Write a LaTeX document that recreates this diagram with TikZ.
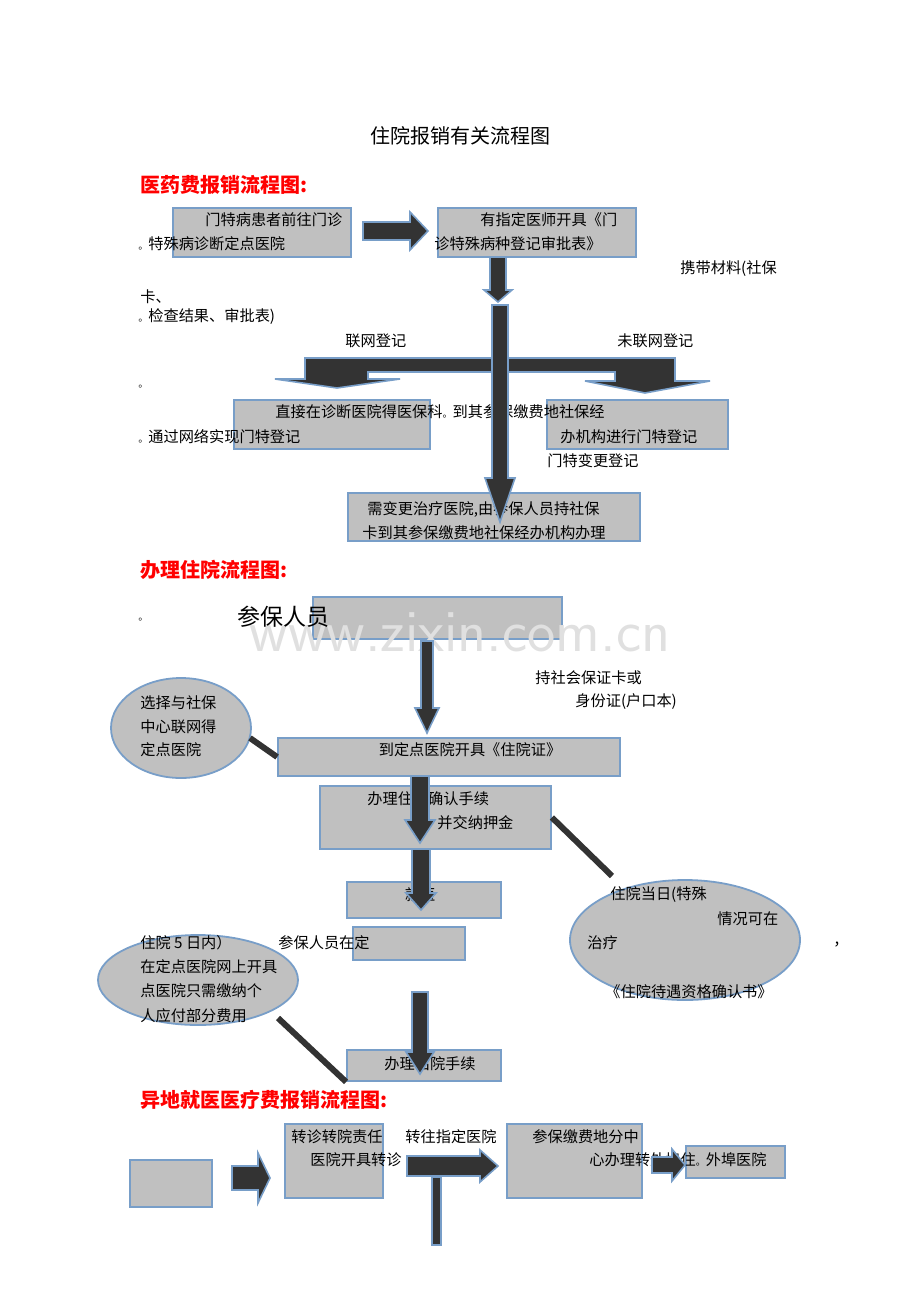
\documentclass[tikz,border=0pt]{standalone}
\usepackage{fontspec}
\setmainfont{Noto Sans CJK SC}
\usetikzlibrary{fit,shapes.geometric}
\definecolor{boxgray}{RGB}{192,192,192}
\definecolor{boxline}{RGB}{120,158,200}
\definecolor{arrdark}{RGB}{51,51,51}
\newcommand\pbox[5]{\node[box,fit={(#2,#3)(#4,#5)}] (#1) {};}
\newcommand\darr[6]{\draw[blk] (#1-#5,#2) -- (#1+#5,#2) -- (#1+#5,#3) -- (#1+#6,#3) -- (#1,#4) -- (#1-#6,#3) -- (#1-#5,#3) -- cycle;}
\newcommand\rarr[6]{\draw[blk] (#2,#1-#5) -- (#3,#1-#5) -- (#3,#1-#6) -- (#4,#1) -- (#3,#1+#6) -- (#3,#1+#5) -- (#2,#1+#5) -- cycle;}
\tikzset{
  box/.style={draw=boxline,fill=boxgray,line width=0.9pt,inner sep=0pt},
  blk/.style={draw=boxline,fill=arrdark,line width=0.8pt},
  oval/.style={draw=boxline,fill=boxgray,line width=0.9pt,ellipse,inner sep=0pt},
  link/.style={draw=arrdark,line width=3pt},
  txt/.style={anchor=west,inner sep=0pt,font=\fontsize{7.6}{9}\selectfont},
  head/.style={anchor=west,inner sep=0pt,text=red,font=\fontsize{10}{12}\selectfont\bfseries},
}
\newcommand\smdot{{\tiny 。}}
\begin{document}
\begin{tikzpicture}[x=0.5pt,y=-0.5pt]
\useasboundingbox (0,0) rectangle (920,1302);
\node[inner sep=0pt,font=\fontsize{10}{12}\selectfont] (title) at (460,136) {住院报销有关流程图};
% part 1
\node[head] (h1) at (140,185) {医药费报销流程图:};
\pbox{b1}{173}{208}{351}{257}
\pbox{b2}{438}{208}{636}{257}
\pbox{b3}{234}{400}{430}{449}
\pbox{b4}{547}{400}{728}{449}
\pbox{b5}{348}{493}{640}{541}
\node[txt] (t1a) at (205,220) {门特病患者前往门诊};
\node[txt] (t1b) at (138,244) {\smdot 特殊病诊断定点医院};
\node[txt] (t2a) at (480,220) {有指定医师开具《门};
\node[txt] (t2b) at (434,244) {诊特殊病种登记审批表》};
\node[txt] (m1) at (680,269) {携带材料(社保};
\node[txt] (m2) at (140,297) {卡、};
\node[txt] (m3) at (138,317) {\smdot 检查结果、审批表)};
\node[txt] (lw) at (345,341) {联网登记};
\node[txt] (wlw) at (617,341) {未联网登记};
\node[txt] (dt) at (138,387) {\smdot};
\node[txt] (t3a) at (275,412) {直接在诊断医院得医保科\smdot 到其参保缴费地社保经};
\node[txt] (t3b) at (138,437) {\smdot 通过网络实现门特登记};
\node[txt] (t4b) at (560,437) {办机构进行门特登记};
\node[txt] (t4c) at (547,461) {门特变更登记};
\node[txt] (t5a) at (367,509) {需变更治疗医院,由参保人员持社保};
\node[txt] (t5b) at (362,533) {卡到其参保缴费地社保经办机构办理};
\rarr{231}{363}{410}{428}{9}{19}
\darr{498}{257}{290}{302}{8}{14}
\draw[blk] (495,358) -- (495,372) -- (368,372) -- (368,379) -- (400,379) -- (337,388) -- (275,379) -- (305,379) -- (305,358) -- cycle;
\draw[blk] (505,358) -- (675,358) -- (675,381) -- (710,381) -- (645,393) -- (585,381) -- (615,381) -- (615,372) -- (505,372) -- cycle;
\darr{500}{305}{478}{522}{8}{15}
% part 2
\node[head] (h2) at (140,570) {办理住院流程图:};
\node[txt] (dt2) at (138,620) {\smdot};
\pbox{b6}{313}{597}{562}{639}
\node[text=black!12,inner sep=0pt,font=\fontsize{30}{32}\selectfont\sffamily] (mark) at (460,632) {www.zixin.com.cn};
\node[txt,font=\fontsize{11.5}{14}\selectfont] (cb) at (237,617) {参保人员};
\node[txt] (c1) at (535,678) {持社会保证卡或};
\node[txt] (c2) at (575,702) {身份证(户口本)};
\darr{427}{641}{708}{733}{6}{12}
\node[oval,minimum width=70pt,minimum height=50pt] (e1) at (181,728) {};
\node[txt] (e1a) at (140,703) {选择与社保};
\node[txt] (e1b) at (140,727) {中心联网得};
\node[txt] (e1c) at (140,750) {定点医院};
\pbox{b7}{278}{738}{620}{776}
\draw[link] (250,738) -- (b7.west);
\node[inner sep=0pt,font=\fontsize{7.6}{9}\selectfont] (t7) at (470,750) {到定点医院开具《住院证》};
\pbox{b8}{320}{786}{551}{849}
\node[txt] (t8a) at (367,799) {办理住院确认手续};
\node[txt] (t8b) at (437,823) {并交纳押金};
\darr{420}{776}{820}{843}{9}{15}
\draw[link] (b8.east) -- (612,876);
\node[oval,minimum width=115pt,minimum height=60pt] (e2) at (685,940) {};
\node[txt] (e2a) at (610,895) {住院当日(特殊};
\node[txt] (e2b) at (717,919) {情况可在};
\node[txt] (e2c) at (587,943) {治疗};
\node[txt] (e2d) at (605,992) {《住院待遇资格确认书》};
\node[txt] (cm) at (833,945) {，};
\pbox{b9}{347}{882}{501}{918}
\node[inner sep=0pt,font=\fontsize{7.6}{9}\selectfont] (t9) at (420,895) {就医};
\darr{421}{849}{893}{910}{9}{15}
\pbox{b10}{353}{927}{465}{960}
\node[txt] (t10) at (278,943) {参保人员在定};
\node[oval,minimum width=100pt,minimum height=45pt] (e3) at (198,980) {};
\node[txt] (e3a) at (140,943) {住院 5 日内）};
\node[txt] (e3b) at (140,967) {在定点医院网上开具};
\node[txt] (e3c) at (140,991) {点医院只需缴纳个};
\node[txt] (e3d) at (140,1016) {人应付部分费用};
\pbox{b11}{347}{1050}{501}{1081}
\draw[link] (278,1018) -- (b11.south west);
\node[inner sep=0pt,font=\fontsize{7.6}{9}\selectfont] (t11) at (430,1064) {办理出院手续};
\darr{420}{992}{1052}{1074}{8}{14}
% part 3
\node[head] (h3) at (140,1100) {异地就医医疗费报销流程图:};
\pbox{b12}{130}{1160}{212}{1207}
\rarr{1178}{232}{258}{270}{12}{25}
\pbox{b13}{285}{1124}{383}{1198}
\node[txt] (t13a) at (291,1137) {转诊转院责任};
\node[txt] (t13b) at (310,1160) {医院开具转诊};
\node[txt] (t13c) at (405,1137) {转往指定医院};
\draw[blk] (432,1177) rectangle (441,1245);
\rarr{1166}{407}{480}{498}{10}{16}
\pbox{b14}{507}{1124}{642}{1198}
\pbox{b15}{686}{1146}{785}{1178}
\node[txt] (t14a) at (532,1137) {参保缴费地分中};
\node[txt] (t14b) at (589,1160) {心办理转外埠住\smdot 外埠医院};
\rarr{1165}{652}{672}{685}{8}{16}
\end{tikzpicture}
\end{document}
